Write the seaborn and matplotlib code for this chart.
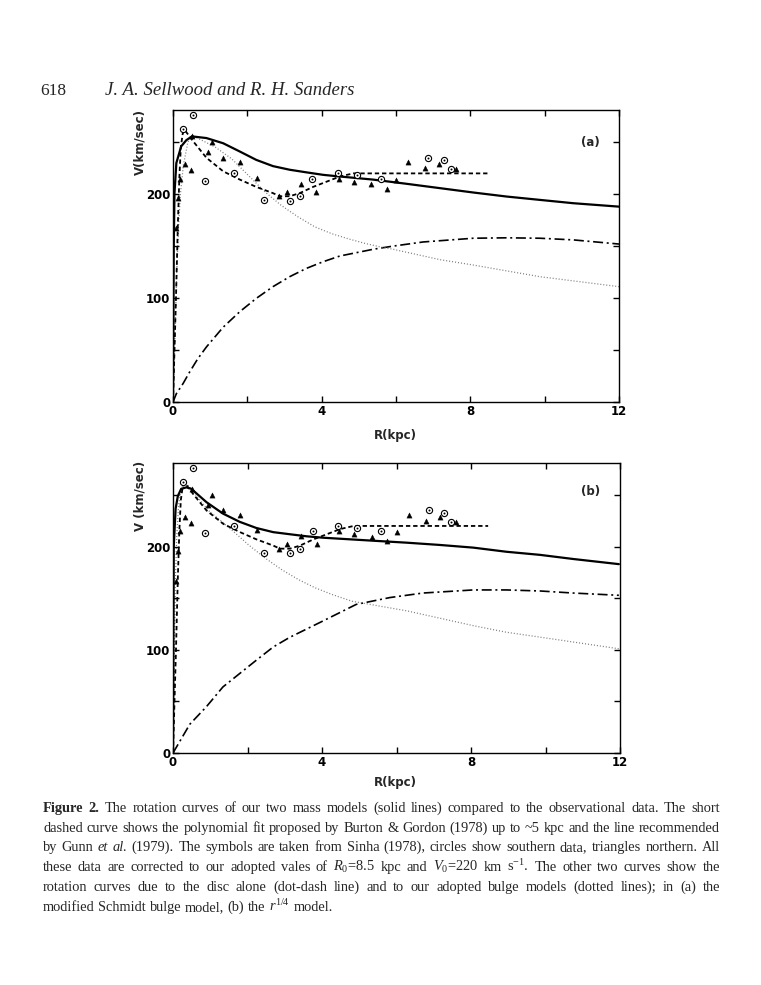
import numpy as np
import pandas as pd
import matplotlib
matplotlib.use("Agg")
import matplotlib.pyplot as plt
import seaborn as sns

# ---------------- data ----------------
# observational points (Sinha 1978): circles = southern, triangles = northern
circ_R = [0.54, 0.28, 0.87, 1.63, 2.45, 3.14, 3.42, 3.75, 4.43, 4.94, 5.59, 6.87, 7.28, 7.47]
circ_V = [276.5, 263, 213, 220, 194, 193.5, 198, 215, 220, 218.5, 215, 235, 233, 224]
tri_R = [0.07, 0.13, 0.18, 0.31, 0.48, 0.51, 0.94, 1.06, 1.35, 1.80, 2.25, 2.85, 3.06,
         3.44, 3.86, 4.46, 4.87, 5.34, 5.75, 6.00, 6.33, 6.78, 7.16, 7.61]
tri_V = [167, 196, 215, 229, 223, 256, 240.5, 250, 235, 231, 216, 198, 202.5,
         210, 202.5, 215, 212, 209.6, 205, 214, 230.5, 225, 228.6, 224]

# Burton & Gordon polynomial fit + Gunn et al. flat line (short dashed)
bg_R = [0.0, 0.08, 0.13, 0.17, 0.21, 0.26, 0.31, 0.54, 0.9, 1.35, 1.8, 2.24, 2.69, 2.87,
        3.14, 3.41, 3.77, 4.13, 4.49, 4.85, 5.2, 8.46]
bg_V = [0, 100, 170, 215, 245, 258, 262, 251, 235, 222, 214, 207, 201, 198,
        198, 201, 207, 212, 217, 220, 220, 220]

# panel (a): modified Schmidt model
a_tot_R = [0.0, 0.02, 0.04, 0.09, 0.22, 0.36, 0.51, 0.9, 1.35, 1.8, 2.24, 2.69, 3.14, 3.59,
           4.04, 4.49, 5.39, 6.28, 7.18, 8.08, 8.98, 9.87, 10.77, 12.0]
a_tot_V = [0, 150, 201, 230, 246, 252, 255.6, 254, 249, 241, 233, 227, 223.5, 221,
           218.6, 217, 214, 210, 205.8, 201.6, 197.7, 194.5, 191.3, 188]
a_bul_R = [0.0, 0.05, 0.1, 0.15, 0.2, 0.28, 0.4, 0.5, 0.6, 1.13, 1.58, 2.03, 2.48, 2.92,
           3.37, 3.82, 4.27, 4.72, 5.17, 5.61, 5.92, 7.18, 8.08, 9.87, 12.0]
a_bul_V = [0, 60, 125, 170, 200, 228, 250, 256, 255, 245.5, 234, 218, 202, 189,
           178, 168.5, 162, 157, 152.6, 149, 147, 137, 131.8, 120.6, 111]
a_disk_R = [0.0, 0.09, 0.27, 0.45, 0.67, 0.9, 1.35, 1.8, 2.24, 2.69, 3.14, 3.59, 4.04, 4.49,
            5.39, 5.92, 6.73, 8.08, 8.98, 9.87, 10.77, 12.0]
a_disk_V = [0, 8, 17.7, 29, 41.8, 53, 72, 87, 99.7, 111, 120.6, 128.6, 135, 140.5,
            147, 150, 154, 157.6, 158, 157.6, 156, 152]

# panel (b): r^1/4 model
b_tot_R = [0.0, 0.02, 0.07, 0.13, 0.22, 0.36, 0.49, 0.9, 1.34, 1.79, 2.24, 2.69, 3.13, 3.58,
           4.03, 5.37, 6.27, 7.16, 8.06, 8.95, 9.85, 10.74, 11.97]
b_tot_V = [0, 200, 236.7, 249, 256, 257.4, 256, 243, 232, 224, 218, 214, 212, 210,
           208.6, 205.7, 203.8, 201.6, 199, 195, 192, 188, 183]
b_bul_R = [0.0, 0.03, 0.06, 0.1, 0.15, 0.22, 0.3, 0.41, 0.95, 1.58, 2.03, 2.48, 2.92, 3.37,
           3.82, 4.27, 4.81, 6.27, 8.06, 8.95, 9.85, 11.97]
b_bul_V = [0, 80, 160, 210, 240, 256, 262, 259, 235, 216, 201.6, 188.7, 177.6, 168,
           160, 153.6, 147, 137.8, 123.4, 117, 112.3, 101]
b_disk_R = [0.0, 0.45, 0.9, 1.34, 1.79, 2.24, 2.69, 3.13, 3.58, 4.03, 4.92, 5.82, 6.71, 8.06,
            8.95, 9.85, 10.74, 11.97]
b_disk_V = [0, 27.8, 45, 64, 77, 90, 102.7, 112, 120, 128, 144, 150.6, 155, 158,
            158, 157, 155, 152.8]

x_ticks = [0, 2, 4, 6, 8, 10, 12]
x_ticklabels = ["0", "", "4", "", "8", "", "12"]
y_ticks = [0, 50, 100, 150, 200, 250]
y_ticklabels = ["0", "", "100", "", "200", ""]

caption_lines = [
    [("Figure", "b"), ("2.", "b"), "The", "rotation", "curves", "of", "our", "two", "mass", "models",
     "(solid", "lines)", "compared", "to", "the", "observational", "data.", "The", "short"],
    ["dashed", "curve", "shows", "the", "polynomial", "fit", "proposed", "by", "Burton", "&", "Gordon",
     "(1978)", "up", "to", "~5", "kpc", "and", "the", "line", "recommended"],
    ["by", "Gunn", ("et", "i"), ("al.", "i"), "(1979).", "The", "symbols", "are", "taken", "from", "Sinha",
     "(1978),", "circles", "show", "southern", "data,", "triangles", "northern.", "All"],
    ["these", "data", "are", "corrected", "to", "our", "adopted", "vales", "of", r"$R_0$=8.5", "kpc",
     "and", r"$V_0$=220", "km", r"s$^{-1}$.", "The", "other", "two", "curves", "show", "the"],
    ["rotation", "curves", "due", "to", "the", "disc", "alone", "(dot-dash", "line)", "and", "to", "our",
     "adopted", "bulge", "models", "(dotted", "lines);", "in", "(a)", "the"],
    ["modified", "Schmidt", "bulge", "model,", "(b)", "the", r"$r^{1/4}$", "model."],
]

# ---------------- figure ----------------
sns.set_theme(style="ticks")
plt.rcParams["font.family"] = ["DejaVu Sans"]
plt.rcParams["mathtext.fontset"] = "custom"
plt.rcParams["mathtext.rm"] = "Liberation Serif"
plt.rcParams["mathtext.it"] = "Liberation Serif:italic"

W, H = 761, 985
fig = plt.figure(figsize=(W / 100, H / 100), dpi=100)
fig.patch.set_facecolor("white")


def ax_rect(l, r, t, b):
    return [l / W, 1 - b / H, (r - l) / W, (b - t) / H]


axa = fig.add_axes(ax_rect(173, 619, 110, 402))
axb = fig.add_axes(ax_rect(173, 620, 463, 753))

solid_kw = dict(color="black", lw=1.6)
dash_kw = dict(color="black", lw=1.3, linestyle=(0, (2.4, 1.6)))
dot_kw = dict(color="#7a7a7a", lw=0.9, linestyle=(0, (0.8, 1.6)))
dd_kw = dict(color="black", lw=1.2, linestyle=(0, (6, 2.2, 1.2, 2.2)))


def draw_panel(ax, tR, tV, bR, bV, dR, dV, label, ylabel, ylab_y, xlab_y, plab_y):
    sns.lineplot(x=dR, y=dV, ax=ax, estimator=None, sort=False, **dd_kw)
    sns.lineplot(x=bR, y=bV, ax=ax, estimator=None, sort=False, **dot_kw)
    sns.lineplot(x=bg_R, y=bg_V, ax=ax, estimator=None, sort=False, **dash_kw)
    sns.lineplot(x=tR, y=tV, ax=ax, estimator=None, sort=False, **solid_kw)
    sns.scatterplot(x=tri_R, y=tri_V, ax=ax, marker="^", s=14, color="black",
                    edgecolor="black", linewidth=0.3, zorder=4)
    sns.scatterplot(x=circ_R, y=circ_V, ax=ax, marker="o", s=20, facecolor="white",
                    edgecolor="black", linewidth=0.8, zorder=4)
    sns.scatterplot(x=circ_R, y=circ_V, ax=ax, marker="o", s=2, color="black",
                    linewidth=0, zorder=5)
    ax.set_xlim(0, 12)
    ax.set_ylim(0, 281)
    ax.set_xticks(x_ticks)
    ax.set_xticklabels(x_ticklabels)
    ax.set_yticks(y_ticks)
    ax.set_yticklabels(y_ticklabels)
    ax.tick_params(direction="in", length=4, width=1, top=True, right=True,
                   labelsize=8.5, pad=2, colors="black")
    for lab in ax.get_xticklabels() + ax.get_yticklabels():
        lab.set_fontweight("bold")
    for sp in ax.spines.values():
        sp.set_linewidth(1.0)
        sp.set_color("black")
    ax.set_xlabel("")
    ax.set_ylabel("")
    ax.text(-0.074, ylab_y, ylabel, rotation=90, transform=ax.transAxes,
            ha="center", va="center", fontsize=8.5, fontweight="bold")
    ax.text(0.498, xlab_y, "R(kpc)", transform=ax.transAxes, ha="center", va="center",
            fontsize=8.5, fontweight="bold")
    ax.text(0.935, plab_y, label, transform=ax.transAxes, ha="center", va="center",
            fontsize=8.5, fontweight="bold")
    ax.set_facecolor("white")


draw_panel(axa, a_tot_R, a_tot_V, a_bul_R, a_bul_V, a_disk_R, a_disk_V, "(a)",
           "V(km/sec)", 0.89, -0.116, 0.89)
draw_panel(axb, b_tot_R, b_tot_V, b_bul_R, b_bul_V, b_disk_R, b_disk_V, "(b)",
           "V (km/sec)", 0.885, -0.103, 0.903)

# header
fig.text(40 / W, 1 - 95 / H, "618", family="Liberation Serif", fontsize=12.5, va="baseline")
fig.text(105 / W, 1 - 95 / H, "J. A. Sellwood and R. H. Sanders", family="Liberation Serif",
         style="italic", fontsize=13.5, va="baseline")

# caption (justified)
renderer = fig.canvas.get_renderer()
cap_base = [812, 832, 851, 871, 891, 911]
xl, xr = 43, 720
for i, (line, yb) in enumerate(zip(caption_lines, cap_base)):
    texts = []
    for tok in line:
        if isinstance(tok, tuple):
            word, st = tok
        else:
            word, st = tok, ""
        t = fig.text(0, 1 - yb / H, word, family="Liberation Serif", fontsize=10.4,
                     fontweight="bold" if st == "b" else "normal",
                     style="italic" if st == "i" else "normal", va="baseline", ha="left")
        texts.append(t)
    widths = [t.get_window_extent(renderer).width for t in texts]
    if i < len(caption_lines) - 1:
        gap = (xr - xl - sum(widths)) / (len(texts) - 1)
    else:
        gap = 3.6
    x = xl
    for t, w in zip(texts, widths):
        t.set_x(x / W)
        x += w + gap

fig.savefig("out.png", dpi=100, facecolor="white")
